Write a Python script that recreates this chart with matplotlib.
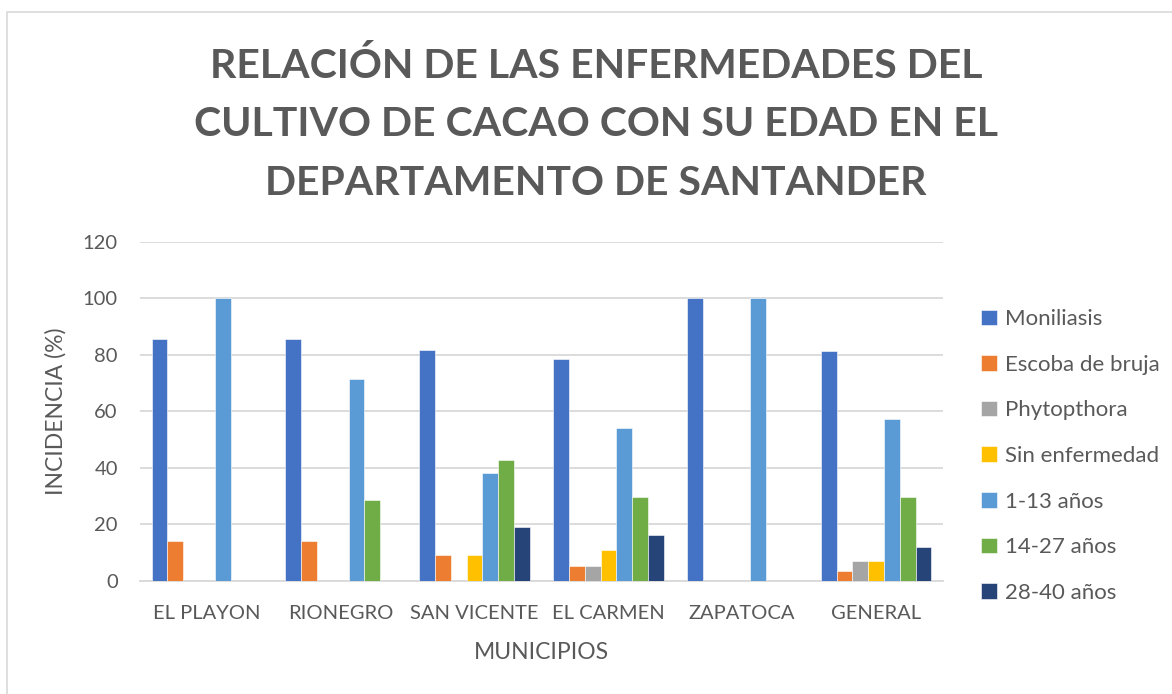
import matplotlib
matplotlib.use("Agg")
import matplotlib.pyplot as plt
import numpy as np
from matplotlib.patches import Rectangle

municipios = ["EL PLAYON", "RIONEGRO", "SAN VICENTE", "EL CARMEN", "ZAPATOCA", "GENERAL"]
series = ["Moniliasis", "Escoba de bruja", "Phytopthora", "Sin enfermedad",
          "1-13 años", "14-27 años", "28-40 años"]
moniliasis = [85.7, 85.7, 81.8, 78.4, 100, 81.3]
escoba = [14.3, 14.3, 9.1, 5.4, 0, 3.4]
phytopthora = [0, 0, 0, 5.4, 0, 7.1]
sin_enfermedad = [0, 0, 9.1, 10.8, 0, 7.1]
edad_1_13 = [100, 71.4, 38.1, 54.1, 100, 57.3]
edad_14_27 = [0, 28.6, 42.9, 29.7, 0, 29.8]
edad_28_40 = [0, 0, 19.0, 16.2, 0, 12.2]
values = [moniliasis, escoba, phytopthora, sin_enfermedad,
          edad_1_13, edad_14_27, edad_28_40]
colors = ["#4472C4", "#ED7D31", "#A5A5A5", "#FFC000",
          "#5B9BD5", "#70AD47", "#264478"]

TXT = "#595959"
GRID = "#D9D9D9"
plt.rcParams["font.family"] = ["Lato", "DejaVu Sans"]

W, H = 1172, 694
fig = plt.figure(figsize=(W / 100, H / 100), dpi=100)
# outer chart border (only left/top visible in the crop)
fig.patches.append(Rectangle((7 / W, -0.1), 1.2, (H - 12) / H + 0.1,
                             transform=fig.transFigure, fill=False,
                             edgecolor=GRID, linewidth=1.2))

ax = fig.add_axes([140 / W, (H - 581) / H, 803 / W, 339.3 / H])
x = np.arange(len(municipios))
slot = 0.118
n = len(series)
for i, (name, vals, c) in enumerate(zip(series, values, colors)):
    offs = (i - (n - 1) / 2) * slot
    ax.bar(x + offs, vals, slot, color=c, label=name, zorder=3,
           edgecolor="white", linewidth=0.4)

ax.set_xlim(-0.5, len(municipios) - 0.5)
ax.set_ylim(0, 120)
ax.set_yticks(range(0, 121, 20))
ax.set_xticks(x)
ax.set_xticklabels(municipios)
ax.grid(axis="y", color=GRID, linewidth=1.3, zorder=0)
ax.tick_params(length=0, colors=TXT, labelsize=14.5)
ax.tick_params(axis="y", pad=16)
ax.tick_params(axis="x", pad=17)
for s in ["top", "right", "left"]:
    ax.spines[s].set_visible(False)
ax.spines["bottom"].set_color(GRID)
ax.spines["bottom"].set_linewidth(1.3)

ax.set_ylabel("INCIDENCIA (%)", color=TXT, fontsize=16.5)
ax.yaxis.set_label_coords((67 - 140) / 803, 0.5)
ax.set_xlabel("MUNICIPIOS", color=TXT, fontsize=16.5, va="top")
ax.xaxis.set_label_coords(0.5, -(642 - 581) / 339.3)

title_lines = ["RELACIÓN DE LAS ENFERMEDADES DEL",
               "CULTIVO DE CACAO CON SU EDAD EN EL",
               "DEPARTAMENTO DE SANTANDER"]
for k, line in enumerate(title_lines):
    fig.text(596 / W, 1 - (78 + 58.5 * k) / H, line, ha="center", va="baseline",
             fontsize=29.5, fontweight="bold", color=TXT)

leg = ax.legend(loc="center left", bbox_to_anchor=(961 / W, 1 - 456 / H),
                bbox_transform=fig.transFigure, frameon=False, fontsize=16,
                labelspacing=1.15, handlelength=0.7, handleheight=0.7,
                handletextpad=0.4, labelcolor=TXT)

fig.savefig("out.png", dpi=100, facecolor="white")
